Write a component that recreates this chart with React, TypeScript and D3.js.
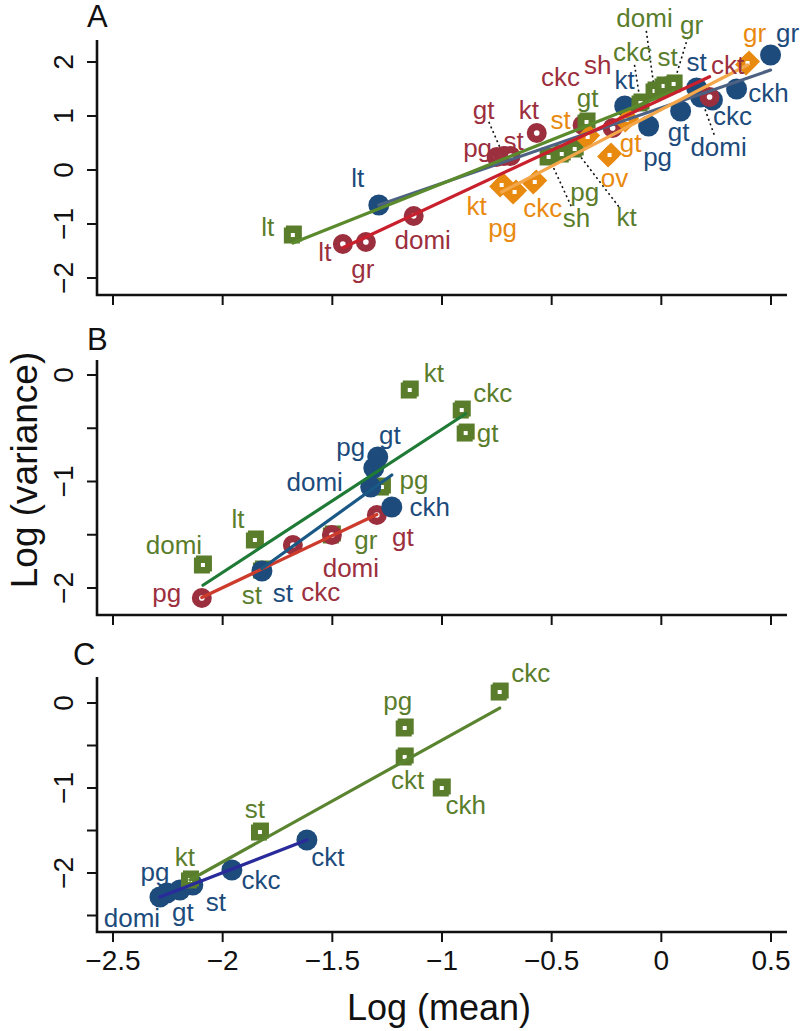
import * as d3 from 'd3'
import { useEffect, useRef } from 'react'

type Pt = { name: string; x: number; y: number }
type Fit = { series: string; slope: number; intercept: number }

// ---- data: log(mean) vs log(variance) ----
const X_TICKS = [-2.5, -2, -1.5, -1, -0.5, 0, 0.5]
const X_TICK_LABELS = ['−2.5', '−2', '−1.5', '−1', '−0.5', '0', '0.5']

const A_Y_TICKS = [-2, -1, 0, 1, 2]
const B_Y_TICKS = [-2, -1.5, -1, -0.5, 0]
const C_Y_TICKS = [-2.5, -2, -1.5, -1, -0.5, 0]

const A_BLUE: Pt[] = [
  { name: 'lt', x: -1.288, y: -0.648 },
  { name: 'kt', x: -0.167, y: 1.185 },
  { name: 'pg', x: -0.058, y: 0.815 },
  { name: 'gt', x: 0.088, y: 1.093 },
  { name: 'st', x: 0.161, y: 1.519 },
  { name: 'domi', x: 0.179, y: 1.352 },
  { name: 'ckc', x: 0.233, y: 1.296 },
  { name: 'ckh', x: 0.343, y: 1.5 },
  { name: 'gr', x: 0.498, y: 2.13 },
]
const A_RED: Pt[] = [
  { name: 'lt', x: -1.452, y: -1.37 },
  { name: 'gr', x: -1.347, y: -1.333 },
  { name: 'domi', x: -1.129, y: -0.852 },
  { name: 'pg', x: -0.751, y: 0.241 },
  { name: 'gt', x: -0.719, y: 0.259 },
  { name: 'st', x: -0.687, y: 0.259 },
  { name: 'kt', x: -0.568, y: 0.685 },
  { name: 'ckc', x: -0.359, y: 0.833 },
  { name: 'sh', x: -0.222, y: 0.778 },
  { name: 'ckt', x: 0.22, y: 1.352 },
]
const A_GREEN: Pt[] = [
  { name: 'lt', x: -1.68, y: -1.204 },
  { name: 'sh', x: -0.514, y: 0.241 },
  { name: 'pg', x: -0.454, y: 0.296 },
  { name: 'kt', x: -0.395, y: 0.389 },
  { name: 'gt', x: -0.341, y: 0.889 },
  { name: 'ckc', x: -0.095, y: 1.241 },
  { name: 'domi', x: -0.031, y: 1.463 },
  { name: 'st', x: 0.01, y: 1.556 },
  { name: 'gr', x: 0.056, y: 1.593 },
]
const A_ORANGE: Pt[] = [
  { name: 'kt', x: -0.728, y: -0.278 },
  { name: 'pg', x: -0.669, y: -0.407 },
  { name: 'ckc', x: -0.577, y: -0.222 },
  { name: 'st', x: -0.336, y: 0.611 },
  { name: 'ov', x: -0.236, y: 0.278 },
  { name: 'gt', x: -0.158, y: 0.926 },
  { name: 'gr', x: 0.393, y: 1.981 },
]
const A_FITS: Fit[] = [
  { series: 'blue', slope: 1.4, intercept: 1.153 },
  { series: 'green', slope: 1.619, intercept: 1.368 },
  { series: 'red', slope: 1.894, intercept: 1.31 },
  { series: 'orange', slope: 2.097, intercept: 1.12 },
]

const B_GREEN: Pt[] = [
  { name: 'domi', x: -2.09, y: -1.784 },
  { name: 'lt', x: -1.853, y: -1.549 },
  { name: 'st', x: -1.821, y: -1.831 },
  { name: 'gr', x: -1.502, y: -1.502 },
  { name: 'pg', x: -1.274, y: -1.052 },
  { name: 'kt', x: -1.147, y: -0.141 },
  { name: 'ckc', x: -0.91, y: -0.329 },
  { name: 'gt', x: -0.892, y: -0.545 },
]
const B_BLUE: Pt[] = [
  { name: 'st', x: -1.821, y: -1.84 },
  { name: 'pg', x: -1.293, y: -0.77 },
  { name: 'gt', x: -1.311, y: -0.873 },
  { name: 'domi', x: -1.325, y: -1.052 },
  { name: 'ckh', x: -1.229, y: -1.239 },
]
const B_RED: Pt[] = [
  { name: 'pg', x: -2.095, y: -2.094 },
  { name: 'ckc', x: -1.68, y: -1.596 },
  { name: 'domi', x: -1.502, y: -1.502 },
  { name: 'gt', x: -1.297, y: -1.315 },
]
const B_FITS: Fit[] = [
  { series: 'red', slope: 0.977, intercept: -0.043 },
  { series: 'green', slope: 1.344, intercept: 0.835 },
  { series: 'blue', slope: 1.483, intercept: 0.884 },
]

const C_GREEN: Pt[] = [
  { name: 'kt', x: -2.149, y: -2.082 },
  { name: 'st', x: -1.83, y: -1.518 },
  { name: 'pg', x: -1.17, y: -0.294 },
  { name: 'ckt', x: -1.17, y: -0.635 },
  { name: 'ckh', x: -1.001, y: -1.0 },
  { name: 'ckc', x: -0.737, y: 0.129 },
]
const C_BLUE: Pt[] = [
  { name: 'domi', x: -2.286, y: -2.282 },
  { name: 'pg', x: -2.254, y: -2.235 },
  { name: 'gt', x: -2.195, y: -2.2 },
  { name: 'st', x: -2.136, y: -2.141 },
  { name: 'ckc', x: -1.958, y: -1.965 },
  { name: 'ckt', x: -1.616, y: -1.612 },
]
const C_FITS: Fit[] = [
  { series: 'green', slope: 1.433, intercept: 0.997 },
  { series: 'blue', slope: 1.0, intercept: 0.004 },
]

// ---- label placement (pixel offsets from the point; true = dotted leader) ----
const LABEL_OFFSETS: Record<string, [number, number, boolean?]> = {
  'A-blue-lt': [-21, -27], 'A-blue-kt': [0, -26], 'A-blue-pg': [9, 31], 'A-blue-gt': [-2, 21],
  'A-blue-st': [0, -26], 'A-blue-domi': [18, 50, true], 'A-blue-ckc': [20, 16], 'A-blue-ckh': [32, 4],
  'A-blue-gr': [17, -22],
  'A-red-lt': [-18, 8], 'A-red-gr': [-3, 27], 'A-red-domi': [9, 24], 'A-red-pg': [-19, -9],
  'A-red-gt': [-20, -46, true], 'A-red-st': [3, -15], 'A-red-kt': [-8, -23], 'A-red-ckc': [-22, -48],
  'A-red-sh': [-15, -63], 'A-red-ckt': [18, -32],
  'A-green-lt': [-25, -8], 'A-green-sh': [28, 61, true], 'A-green-pg': [23, 38], 'A-green-kt': [52, 68, true],
  'A-green-gt': [1, -24], 'A-green-ckc': [-8, -51, true], 'A-green-domi': [-10, -73, true],
  'A-green-st': [4, -29], 'A-green-gr': [18, -59, true],
  'A-orange-kt': [-25, 21], 'A-orange-pg': [-12, 36], 'A-orange-ckc': [8, 26], 'A-orange-st': [-27, -17],
  'A-orange-ov': [5, 23], 'A-orange-gt': [4, 23], 'A-orange-gr': [7, -30],
  'B-green-domi': [-29, -20], 'B-green-lt': [-17, -21], 'B-green-st': [-10, 25], 'B-green-gr': [34, 5],
  'B-green-pg': [32, -7], 'B-green-kt': [24, -17], 'B-green-ckc': [31, -17], 'B-green-gt': [22, 0],
  'B-blue-st': [21, 22], 'B-blue-pg': [-27, -10], 'B-blue-gt': [16, -33], 'B-blue-domi': [-56, -5],
  'B-blue-ckh': [38, 0],
  'B-red-pg': [-35, -5], 'B-red-ckc': [28, 47], 'B-red-domi': [19, 33], 'B-red-gt': [26, 22],
  'C-green-kt': [-5, -23], 'C-green-st': [-5, -23], 'C-green-pg': [-7, -27], 'C-green-ckt': [3, 23],
  'C-green-ckh': [24, 17], 'C-green-ckc': [31, -19],
  'C-blue-domi': [-28, 21], 'C-blue-pg': [-12, -21], 'C-blue-gt': [3, 22], 'C-blue-st': [23, 17],
  'C-blue-ckc': [29, 10], 'C-blue-ckt': [21, 17],
}

const SERIES_STYLE: Record<string, { shape: string; color: string }> = {
  blue: { shape: 'dot', color: '#1c4b7c' },
  red: { shape: 'ring', color: '#9c2f3e' },
  green: { shape: 'square', color: '#5a7d2c' },
  orange: { shape: 'diamond', color: '#e98a10' },
}

const FONT = "'Liberation Sans', Arial, sans-serif"

type Panel = {
  key: string
  top: number
  bottom: number
  yAt: [number, number, number, number] // value0, px0, value1, px1
  yTicks: number[]
  letter: [number, number]
  series: { id: string; pts: Pt[] }[]
  fits: Fit[]
  lineColor: Record<string, string>
  xLabels: boolean
}

const PANELS: Panel[] = [
  {
    key: 'A', top: 40, bottom: 295, yAt: [-2, 278, 2, 62], yTicks: A_Y_TICKS, letter: [87, 27],
    series: [
      { id: 'blue', pts: A_BLUE },
      { id: 'red', pts: A_RED },
      { id: 'green', pts: A_GREEN },
      { id: 'orange', pts: A_ORANGE },
    ],
    fits: A_FITS,
    lineColor: { blue: '#4d6283', green: '#5b8a2d', red: '#c8202d', orange: '#f3a64a' },
    xLabels: false,
  },
  {
    key: 'B', top: 360, bottom: 615, yAt: [-2, 588, 0, 375], yTicks: B_Y_TICKS, letter: [87, 350],
    series: [
      { id: 'green', pts: B_GREEN },
      { id: 'red', pts: B_RED },
      { id: 'blue', pts: B_BLUE },
    ],
    fits: B_FITS,
    lineColor: { red: '#cc3b2c', green: '#1f7a36', blue: '#1a5886' },
    xLabels: false,
  },
  {
    key: 'C', top: 677, bottom: 932, yAt: [-2, 873, 0, 703], yTicks: C_Y_TICKS, letter: [73, 665],
    series: [
      { id: 'blue', pts: C_BLUE },
      { id: 'green', pts: C_GREEN },
    ],
    fits: C_FITS,
    lineColor: { green: '#5a842f', blue: '#2a2b9b' },
    xLabels: true,
  },
]

const W = 800
const H = 1031
const AXIS_X = 97
const AXIS_RIGHT = 787

type G = d3.Selection<SVGGElement, unknown, null, undefined>

function drawMarker(g: G, shape: string, cx: number, cy: number, color: string) {
  if (shape === 'dot') {
    g.append('circle').attr('cx', cx).attr('cy', cy).attr('r', 10.5).attr('fill', color)
  } else if (shape === 'ring') {
    g.append('circle').attr('cx', cx).attr('cy', cy).attr('r', 10).attr('fill', color)
    g.append('circle').attr('cx', cx).attr('cy', cy).attr('r', 2.8).attr('fill', '#fff')
  } else if (shape === 'square') {
    g.append('rect').attr('x', cx - 9).attr('y', cy - 7.5).attr('width', 16).attr('height', 16).attr('fill', color)
    g.append('rect').attr('x', cx - 7).attr('y', cy - 9.5).attr('width', 16).attr('height', 16).attr('fill', color)
    g.append('rect').attr('x', cx - 2).attr('y', cy - 2).attr('width', 4).attr('height', 4).attr('fill', '#fff')
  } else if (shape === 'diamond') {
    const d = (ox: number, oy: number) =>
      `${cx + ox},${cy + oy - 11} ${cx + ox + 11},${cy + oy} ${cx + ox},${cy + oy + 11} ${cx + ox - 11},${cy + oy}`
    g.append('polygon').attr('points', d(-1.5, 1.5)).attr('fill', color)
    g.append('polygon').attr('points', d(1.5, -1.5)).attr('fill', color)
    g.append('rect').attr('x', cx - 2).attr('y', cy - 2).attr('width', 4).attr('height', 4).attr('fill', '#fff')
  }
}

function Chart() {
  const ref = useRef<SVGSVGElement | null>(null)

  useEffect(() => {
    const svgEl = ref.current
    if (!svgEl) return
    document.body.style.margin = '0'

    const svg = d3.select(svgEl)
    svg.selectAll('*').remove()
    svg.attr('viewBox', `0 0 ${W} ${H}`).style('background', '#fff')

    const x = d3.scaleLinear().domain([-2.5, 0.5]).range([113, 771])
    const fmt = (v: number) => (v < 0 ? '−' + Math.abs(v) : String(v))

    for (const p of PANELS) {
      const [v0, p0, v1, p1] = p.yAt
      const y = d3.scaleLinear().domain([v0, v1]).range([p0, p1])
      const root = svg.append('g').attr('class', `panel-${p.key}`)

      // L-shaped frame
      root
        .append('path')
        .attr('d', `M${AXIS_X},${p.top}V${p.bottom}H${AXIS_RIGHT}`)
        .attr('fill', 'none')
        .attr('stroke', '#111')
        .attr('stroke-width', 2.6)

      for (const t of p.yTicks) {
        const ty = y(t)
        root.append('line').attr('x1', AXIS_X).attr('x2', AXIS_X - 10).attr('y1', ty).attr('y2', ty)
          .attr('stroke', '#111').attr('stroke-width', 2)
        if (Number.isInteger(t)) {
          root.append('text')
            .attr('x', 73).attr('y', ty)
            .attr('transform', `rotate(-90, 73, ${ty})`)
            .attr('text-anchor', 'middle')
            .attr('font-family', FONT).attr('font-size', 28).attr('fill', '#111')
            .text(fmt(t))
        }
      }
      X_TICKS.forEach((t, i) => {
        const tx = x(t)
        root.append('line').attr('x1', tx).attr('x2', tx).attr('y1', p.bottom).attr('y2', p.bottom + 10)
          .attr('stroke', '#111').attr('stroke-width', 2)
        if (p.xLabels) {
          root.append('text').attr('x', tx).attr('y', p.bottom + 38)
            .attr('text-anchor', 'middle')
            .attr('font-family', FONT).attr('font-size', 28).attr('fill', '#111')
            .text(X_TICK_LABELS[i])
        }
      })

      root.append('text').attr('x', p.letter[0]).attr('y', p.letter[1])
        .attr('font-family', FONT).attr('font-size', 31).attr('fill', '#111')
        .text(p.key)

      const gLead = root.append('g')
      const gPts = root.append('g')
      const gLines = root.append('g')
      const gLab = root.append('g')

      for (const s of p.series) {
        const st = SERIES_STYLE[s.id]
        for (const pt of s.pts) {
          const cx = x(pt.x)
          const cy = y(pt.y)
          drawMarker(gPts as unknown as G, st.shape, cx, cy, st.color)
          const off = LABEL_OFFSETS[`${p.key}-${s.id}-${pt.name}`] ?? [0, -22]
          const lx = cx + off[0]
          const ly = cy + off[1]
          if (off[2]) {
            const dx = cx - lx
            const dy = cy - ly
            const len = Math.hypot(dx, dy)
            gLead.append('line')
              .attr('x1', lx + (dx / len) * 13).attr('y1', ly + (dy / len) * 13)
              .attr('x2', cx - (dx / len) * 7).attr('y2', cy - (dy / len) * 7)
              .attr('stroke', '#111').attr('stroke-width', 1.6).attr('stroke-dasharray', '2,3')
          }
          gLab.append('text')
            .attr('x', lx).attr('y', ly)
            .attr('text-anchor', 'middle').attr('dominant-baseline', 'central')
            .attr('font-family', FONT).attr('font-size', 26).attr('fill', st.color)
            .text(pt.name)
        }
      }

      for (const f of p.fits) {
        const pts = p.series.find((s) => s.id === f.series)?.pts ?? []
        const [xmin, xmax] = d3.extent(pts, (d) => d.x) as [number, number]
        const line = d3.line<number>().x((v) => x(v)).y((v) => y(f.intercept + f.slope * v))
        gLines.append('path')
          .attr('d', line([xmin, xmax]))
          .attr('fill', 'none')
          .attr('stroke', p.lineColor[f.series])
          .attr('stroke-width', 3.2)
          .attr('stroke-linecap', 'round')
      }
    }

    svg.append('text').attr('x', 439).attr('y', 1020)
      .attr('text-anchor', 'middle')
      .attr('font-family', FONT).attr('font-size', 36).attr('fill', '#111')
      .text('Log (mean)')
    svg.append('text').attr('x', 37).attr('y', 470)
      .attr('transform', 'rotate(-90, 37, 470)')
      .attr('text-anchor', 'middle')
      .attr('font-family', FONT).attr('font-size', 37).attr('fill', '#111')
      .text('Log (variance)')
  }, [])

  return <svg ref={ref} width={W} height={H} style={{ display: 'block' }} />
}

export default function App() {
  return <Chart />
}
